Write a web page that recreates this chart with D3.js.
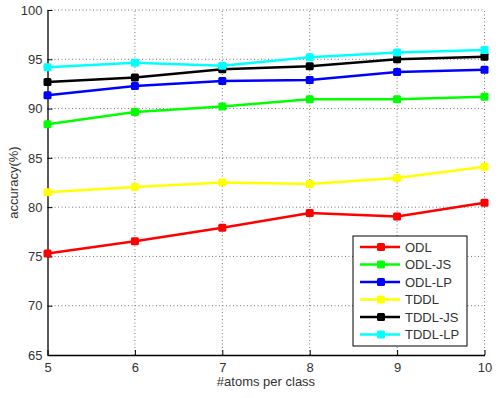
<!DOCTYPE html>
<html>
<head>
<meta charset="utf-8">
<script src="https://d3js.org/d3.v7.min.js"></script>
<style>
body { margin: 0; background: #fff; }
text { font-family: "Liberation Sans", Arial, sans-serif; }
.grid line { stroke: #777; stroke-dasharray: 1,2.5; }
</style>
</head>
<body>
<svg width="498" height="398"></svg>
<script>
var atoms = [5, 6, 7, 8, 9, 10];
var names = ["ODL", "ODL-JS", "ODL-LP", "TDDL", "TDDL-JS", "TDDL-LP"];
var colors = ["#ff0000", "#00ff00", "#0000ff", "#ffff00", "#000000", "#00ffff"];
var odl    = [75.3, 76.55, 77.9, 79.4, 79.05, 80.45];
var odlJS  = [88.4, 89.65, 90.2, 90.95, 90.95, 91.2];
var odlLP  = [91.35, 92.3, 92.8, 92.9, 93.7, 93.95];
var tddl   = [81.5, 82.05, 82.5, 82.35, 82.95, 84.1];
var tddlJS = [92.7, 93.15, 94.0, 94.3, 95.0, 95.25];
var tddlLP = [94.2, 94.65, 94.35, 95.2, 95.7, 95.95];
var yTicks = [65, 70, 75, 80, 85, 90, 95, 100];

var series = [odl, odlJS, odlLP, tddl, tddlJS, tddlLP];

var svg = d3.select("svg");
var x = d3.scaleLinear().domain([5, 10]).range([47.5, 484.5]);
var y = d3.scaleLinear().domain([65, 100]).range([355, 10]);

// grid
var grid = svg.append("g").attr("class", "grid");
grid.selectAll(".gy").data(yTicks.slice(1)).enter().append("line")
    .attr("x1", x(5)).attr("x2", x(10))
    .attr("y1", function(d) { return y(d); }).attr("y2", function(d) { return y(d); });
grid.selectAll(".gx").data(atoms.slice(1)).enter().append("line")
    .attr("y1", y(65)).attr("y2", y(100))
    .attr("x1", function(d) { return x(d); }).attr("x2", function(d) { return x(d); });

// axes
var xAxis = svg.append("g").attr("transform", "translate(0," + y(65) + ")")
    .call(d3.axisBottom(x).tickValues(atoms).tickFormat(d3.format("d"))
      .tickSizeInner(-5).tickSizeOuter(0).tickPadding(8));
var yAxis = svg.append("g").attr("transform", "translate(" + x(5) + ",0)")
    .call(d3.axisLeft(y).tickValues(yTicks).tickFormat(d3.format("d"))
      .tickSizeInner(-5).tickSizeOuter(0).tickPadding(5));
[xAxis, yAxis].forEach(function(a) {
  a.select(".domain").attr("stroke", "#000").attr("stroke-width", 1.3);
  a.selectAll(".tick line").attr("stroke", "#000");
  a.selectAll("text").attr("font-size", 13).attr("fill", "#333")
    .attr("font-family", "Liberation Sans, Arial, sans-serif");
});

svg.append("text").attr("x", (x(5) + x(10)) / 2).attr("y", 386)
    .attr("text-anchor", "middle").attr("font-size", 13).attr("fill", "#333")
    .text("#atoms per class");
svg.append("text").attr("transform", "translate(18," + y(82.5) + ") rotate(-90)")
    .attr("text-anchor", "middle").attr("font-size", 13).attr("fill", "#333")
    .text("accuracy(%)");

// lines
var line = d3.line().x(function(d, i) { return x(atoms[i]); }).y(function(d) { return y(d); });
series.forEach(function(s, k) {
  var g = svg.append("g");
  g.append("path").datum(s).attr("d", line).attr("fill", "none")
    .attr("stroke", colors[k]).attr("stroke-width", 2.5);
  g.selectAll("rect").data(s).enter().append("rect")
    .attr("x", function(d, i) { return x(atoms[i]) - 4; })
    .attr("y", function(d) { return y(d) - 4; })
    .attr("width", 8).attr("height", 8).attr("rx", 1.5)
    .attr("fill", colors[k]);
});

// legend
var lg = svg.append("g").attr("transform", "translate(353,236)");
lg.append("rect").attr("width", 114).attr("height", 110)
    .attr("fill", "#fff").attr("stroke", "#000").attr("stroke-width", 1);
names.forEach(function(n, k) {
  var yy = 11 + k * 17.5;
  lg.append("line").attr("x1", 7).attr("x2", 47).attr("y1", yy).attr("y2", yy)
    .attr("stroke", colors[k]).attr("stroke-width", 2.5);
  lg.append("rect").attr("x", 24).attr("y", yy - 4).attr("width", 8).attr("height", 8)
    .attr("rx", 1.5).attr("fill", colors[k]);
  lg.append("text").attr("x", 52).attr("y", yy + 4.5).attr("font-size", 13)
    .attr("fill", "#333").text(n);
});
</script>
</body>
</html>
